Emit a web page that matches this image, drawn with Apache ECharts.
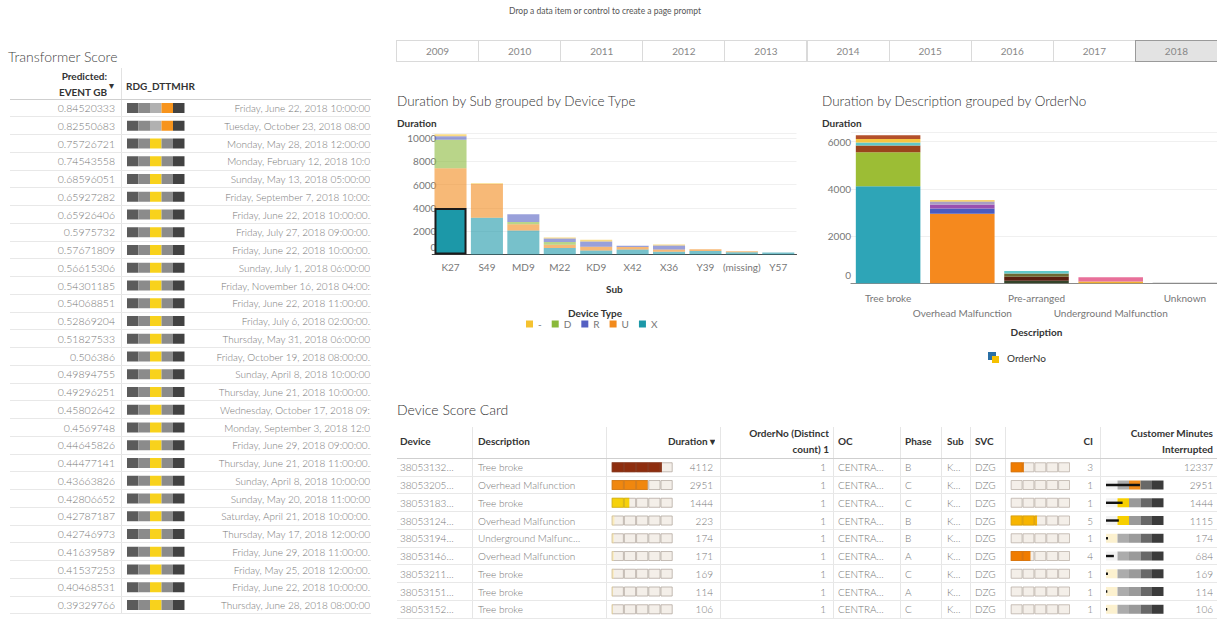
<!DOCTYPE html>
<html><head><meta charset="utf-8">
<script src="https://cdn.jsdelivr.net/npm/echarts@6/dist/echarts.min.js"></script>
<style>
html,body{margin:0;padding:0;background:#fff;}
#wrap{position:relative;width:1217px;height:620px;overflow:hidden;font-family:Lato,'Noto Sans',sans-serif;}
#chart{position:absolute;left:0;top:0;width:1217px;height:620px;z-index:0;}
#overlay{position:absolute;left:0;top:0;width:1217px;height:620px;z-index:1;pointer-events:none;}
.t{position:absolute;white-space:nowrap;}
.ln{position:absolute;}
</style></head>
<body><div id="wrap"><div id="chart"></div><div id="overlay"></div></div>
<script>
// ---------------- DATA ----------------
const years = ['2009','2010','2011','2012','2013','2014','2015','2016','2017','2018'];
const selectedYear = '2018';

// Transformer Score table
const tsScore = [0.84520333,0.82550683,0.75726721,0.74543558,0.68596051,0.65927282,0.65926406,0.5975732,0.57671809,0.56615306,0.54301185,0.54068851,0.52869204,0.51827533,0.506386,0.49894755,0.49296251,0.45802642,0.4569748,0.44645826,0.44477141,0.43663826,0.42806652,0.42787187,0.42746973,0.41639589,0.41537253,0.40468531,0.39329766];
const tsDate = ['Friday, June 22, 2018 10:00:00','Tuesday, October 23, 2018 08:00','Monday, May 28, 2018 12:00:00','Monday, February 12, 2018 10:0','Sunday, May 13, 2018 05:00:00','Friday, September 7, 2018 10:00:','Friday, June 22, 2018 10:00:00.','Friday, July 27, 2018 09:00:00.','Friday, June 22, 2018 10:00:00.','Sunday, July 1, 2018 06:00:00','Friday, November 16, 2018 04:00:','Friday, June 22, 2018 11:00:00.','Friday, July 6, 2018 02:00:00.','Thursday, May 31, 2018 06:00:00','Friday, October 19, 2018 08:00:00.','Sunday, April 8, 2018 10:00:00','Thursday, June 21, 2018 10:00:00.','Wednesday, October 17, 2018 09:','Monday, September 3, 2018 12:0','Friday, June 29, 2018 09:00:00.','Thursday, June 21, 2018 11:00:00.','Sunday, April 8, 2018 10:00:00','Sunday, May 20, 2018 11:00:00','Saturday, April 21, 2018 10:00:00.','Thursday, May 17, 2018 12:00:00','Friday, June 29, 2018 11:00:00.','Friday, May 25, 2018 12:00:00.','Friday, June 22, 2018 10:00:00.','Thursday, June 28, 2018 08:00:00'];

// Duration by Sub grouped by Device Type
const subs = ['K27','S49','MD9','M22','KD9','X42','X36','Y39','(missing)','Y57'];
const durX    = [4000,3150,2050,550,350,420,230,300,200,170];
const durU    = [3400,2900,550,280,320,230,200,150,80,0];
const durD    = [2450,0,200,250,0,0,0,0,0,0];
const durR    = [300,0,650,300,450,100,340,0,0,0];
const durDash = [170,60,0,80,140,0,90,0,0,0];
const legendTypes = ['-','D','R','U','X'];
const selectedSub = 'K27', selectedType = 'X';

// Duration by Description grouped by OrderNo
const descCats = ['Tree broke','Overhead Malfunction','Pre-arranged','Underground Malfunction','Unknown'];
const orderDesc = [0,0,0,0,0,0, 1,1,1,1,1, 2,2,2,2, 3,3, 4];
const orderDur  = [4112,1444,280,130,150,160, 2951,223,171,120,60, 110,170,140,100, 80,174, 20];

// Device Score Card
const scDevice = ['38053132…','38053205…','38053183…','38053124…','38053194…','38053146…','38053211…','38053151…','38053152…'];
const scDesc = ['Tree broke','Overhead Malfunction','Tree broke','Overhead Malfunction','Underground Malfunc…','Overhead Malfunction','Tree broke','Tree broke','Tree broke'];
const scDuration = [4112,2951,1444,223,174,171,169,114,106];
const scOrderCount = [1,1,1,1,1,1,1,1,1];
const scOC = ['CENTRA…','CENTRA…','CENTRA…','CENTRA…','CENTRA…','CENTRA…','CENTRA…','CENTRA…','CENTRA…'];
const scPhase = ['B','C','C','B','B','A','C','A','C'];
const scSub = ['K…','K…','K…','K…','K…','K…','K…','K…','K…'];
const scSVC = ['DZG','DZG','DZG','DZG','DZG','DZG','DZG','DZG','DZG'];
const scCI = [3,1,1,5,1,4,1,1,1];
const scCMI = [12337,2951,1444,1115,174,684,169,114,106];

// ---------------- STYLES ----------------
const FONT = 'Lato';
const CELL = '#777';
const typeColor = {'-':'#f5c230','D':'#8ab93a','R':'#5560c2','U':'#f28a1c','X':'#1c98a8'};
const orderColors = ['#2ea5b7','#9cbd35','#9a441c','#5fc8c8','#f6c542','#b4502a',
                     '#f5891e','#4a5bc0','#9a4fb0','#a79cc4','#f6c542',
                     '#34432a','#5a1f10','#6e6a32','#62c9c9',
                     '#f0b030','#e8709a','#8a8a8a'];
const tsBandBase = ['#5b5b5b','#8b8b8b','#b1b1b1','#8b8b8b','#424242'];
const tsHL = {2:'#f8d21c',3:'#f7941d'};
function tsLevel(v){ return v >= 0.8 ? 3 : 2; }
function durColor(v){ return v>=4000?'#8e2d0e':v>=2000?'#f0870e':v>=1000?'#f6d10a':'#fbecbc'; }
function ciColor(v){ return v>=5?'#f7b500':v>=3?'#f07c00':'rgba(0,0,0,0)'; }
const cmiBandBase = ['#f2f2f2','#acacac','#9a9a9a','#686868','#3b3b3b'];
const cmiHL = {0:'#fcf1cf',1:'#f7cf00',2:'#f08a1a'};
const CMI_MAX = 5000;
function cmiLevel(v){ if(v>CMI_MAX) return null; if(v<500) return 0; if(v<1000) return -1; return Math.floor(v/1000); }

const ROW_L = 17.75;          // left table row height
const L_TOP = 99.125;         // left table body top
const ROW_S = 17.75;          // score card row height
const S_TOP = 458.4;          // score card body top

// ---------------- HTML overlay ----------------
const ov = document.getElementById('overlay');
function txt(s,o){
  const d=document.createElement('div'); d.className='t'; d.textContent=s;
  const h=o.h||16;
  d.style.top=(o.cy-h/2)+'px'; d.style.height=h+'px'; d.style.lineHeight=h+'px';
  d.style.fontSize=(o.size||10)+'px'; d.style.color=o.color||CELL;
  d.style.fontWeight=o.bold?'bold':(o.weight||'normal');
  if(o.align==='right'){ d.style.left=(o.x-o.w)+'px'; d.style.width=o.w+'px'; d.style.textAlign='right'; d.style.overflow='hidden'; }
  else if(o.align==='center'){ d.style.left=(o.x-o.w/2)+'px'; d.style.width=o.w+'px'; d.style.textAlign='center'; }
  else { d.style.left=o.x+'px'; if(o.w){ d.style.width=o.w+'px'; d.style.overflow='hidden'; } }
  ov.appendChild(d); return d;
}
function box(x,y,w,h,css){ const d=document.createElement('div'); d.className='ln';
  d.style.left=x+'px'; d.style.top=y+'px'; d.style.width=w+'px'; d.style.height=h+'px'; d.style.cssText+=css; ov.appendChild(d); return d; }
function hline(x1,x2,y,c){ return box(x1,y-0.5,x2-x1,1,'background:'+c); }
function vline(x,y1,y2,c){ return box(x-0.5,y1,1,y2-y1,'background:'+c); }

txt('Drop a data item or control to create a page prompt',{x:605,cy:11,w:400,align:'center',size:8.5,color:'#555'});

// Year buttons
years.forEach((y,i)=>{
  const sel = y===selectedYear;
  const d = box(396+i*82.1,40,83.1,22,'box-sizing:border-box;border:1px solid '+(sel?'#9a9a9a':'#dadada')+';background:'+(sel?'#e3e3e3':'#fff')+';color:#888;font-size:10px;line-height:20px;text-align:center;'+(sel?'z-index:2;':''));
  d.textContent=y;
});

// Left table
txt('Transformer Score',{x:8,cy:57,size:14,color:'#444',weight:300});
txt('Predicted:',{x:107,cy:76,w:100,align:'right',bold:true,color:'#333'});
txt('EVENT GB',{x:107,cy:92,w:100,align:'right',bold:true,color:'#333'});
txt('▾',{x:109,cy:85,size:10,color:'#333'});
txt('RDG_DTTMHR',{x:126,cy:86,bold:true,color:'#333'});
vline(121,68,614,'#e2e2e2');
hline(10,371,L_TOP,'#cfcfcf');
tsScore.forEach((v,i)=>{
  const cy=L_TOP+(i+0.5)*ROW_L;
  txt(String(v),{x:115,cy,w:100,align:'right',size:10.5,weight:300});
  txt(tsDate[i],{x:370,cy,w:157,align:'right',size:10,weight:300});
  hline(10,371,L_TOP+(i+1)*ROW_L,'#e8e8e8');
});

// Chart titles / legends
txt('Duration by Sub grouped by Device Type',{x:397,cy:101,size:13.5,color:'#333',weight:300});
txt('Duration',{x:397,cy:122.5,bold:true,color:'#333'});
txt('Device Type',{x:595,cy:313,w:120,align:'center',bold:true,color:'#333'});
txt('Duration by Description grouped by OrderNo',{x:822,cy:101,size:13.5,color:'#333',weight:300});
txt('Duration',{x:822,cy:123,bold:true,color:'#333'});
box(988,352,8,8,'background:#2a6fa5;');
box(992,356,7,7,'background:#f5c000;');
txt('OrderNo',{x:1007,cy:358,color:'#333'});

// Score card
txt('Device Score Card',{x:397,cy:410,size:14,color:'#333',weight:300});
const H={bold:true,color:'#333'};
txt('Device',Object.assign({x:400,cy:441},H));
txt('Description',Object.assign({x:478,cy:441},H));
txt('Duration ▾',Object.assign({x:715,cy:441,w:100,align:'right'},H));
txt('OrderNo (Distinct',Object.assign({x:829,cy:433,w:110,align:'right'},H));
txt('count) 1',Object.assign({x:829,cy:449,w:110,align:'right'},H));
txt('OC',Object.assign({x:838,cy:441},H));
txt('Phase',Object.assign({x:905,cy:441},H));
txt('Sub',Object.assign({x:947,cy:441},H));
txt('SVC',Object.assign({x:975,cy:441},H));
txt('CI',Object.assign({x:1093,cy:441,w:40,align:'right'},H));
txt('Customer Minutes',Object.assign({x:1213,cy:433,w:110,align:'right'},H));
txt('Interrupted',Object.assign({x:1213,cy:449,w:110,align:'right'},H));
[472.7,606.7,720,833,900,941.7,970,1005,1100].forEach(x=>vline(x,427,618,'#e6e6e6'));
hline(397,1217,S_TOP,'#cfcfcf');
scDevice.forEach((d,i)=>{
  const cy=S_TOP+(i+0.5)*ROW_S, w=300;
  txt(d,{x:400,cy,weight:w});
  txt(scDesc[i],{x:478,cy,weight:w});
  txt(String(scDuration[i]),{x:713,cy,w:40,align:'right',weight:w});
  txt(String(scOrderCount[i]),{x:826,cy,w:40,align:'right',weight:w});
  txt(scOC[i],{x:838,cy,weight:w});
  txt(scPhase[i],{x:905,cy,weight:w});
  txt(scSub[i],{x:947,cy,weight:w});
  txt(scSVC[i],{x:975,cy,weight:w});
  txt(String(scCI[i]),{x:1093,cy,w:30,align:'right',weight:w});
  txt(String(scCMI[i]),{x:1213,cy,w:50,align:'right',weight:w});
  hline(397,1217,S_TOP+(i+1)*ROW_S,'#e8e8e8');
});

// ---------------- ECHARTS ----------------
const chart = echarts.init(document.getElementById('chart'), null, {renderer:'svg'});
const rowIdx = n => Array.from({length:n},(_,i)=>i);
const hiddenCat = (g,n) => ({gridIndex:g,type:'category',data:rowIdx(n),inverse:true,show:false});
const hiddenVal = (g,min,max,extra) => Object.assign({gridIndex:g,type:'value',min,max,show:false,splitLine:{show:false}},extra||{});
const zeroRich = {z:{padding:[0,0,16,0],fontSize:10,color:'#777',fontFamily:FONT}};
const valFmt = v => v===0 ? '{z|0}' : String(v);

const series = [];
// chart 1
[['X',durX],['U',durU],['D',durD],['R',durR],['-',durDash]].forEach(([name,arr])=>{
  series.push({type:'bar',name,stack:'c1',xAxisIndex:0,yAxisIndex:0,barCategoryGap:'12%',
    itemStyle:{color:typeColor[name],opacity:0.6},emphasis:{disabled:true},
    data:arr.map((v,i)=>(subs[i]===selectedSub&&name===selectedType)?{value:v,itemStyle:{opacity:1,borderColor:'#1b1b1b',borderWidth:2}}:v)});
});
// chart 2
orderDur.forEach((v,k)=>{
  series.push({type:'bar',name:'OrderNo '+(k+1),stack:'c2',xAxisIndex:1,yAxisIndex:1,barCategoryGap:'13%',
    itemStyle:{color:orderColors[k]},emphasis:{disabled:true},
    data:descCats.map((c,j)=>j===orderDesc[k]?v:null)});
});
// left bullets
for(let b=0;b<5;b++){
  series.push({type:'bar',stack:'ts',xAxisIndex:2,yAxisIndex:2,barWidth:10,silent:true,
    data:tsScore.map(v=>({value:1,itemStyle:{color:tsLevel(v)===b?tsHL[b]:tsBandBase[b]}}))});
}
// duration bars
for(let b=0;b<5;b++) series.push({type:'bar',stack:'dtrk',xAxisIndex:3,yAxisIndex:3,barWidth:10,barGap:'-100%',silent:true,
  itemStyle:{color:'#f4efe9',borderColor:'#dcd7d0',borderWidth:1},data:scDuration.map(()=>1000)});
series.push({type:'bar',stack:'dfill',xAxisIndex:3,yAxisIndex:3,barWidth:10,barGap:'-100%',silent:true,
  data:scDuration.map(v=>({value:v,itemStyle:{color:durColor(v)}}))});
for(let b=0;b<5;b++) series.push({type:'bar',stack:'ddiv',xAxisIndex:3,yAxisIndex:3,barWidth:10,barGap:'-100%',silent:true,
  itemStyle:{color:'rgba(0,0,0,0)',borderColor:'rgba(120,100,90,0.22)',borderWidth:1},data:scDuration.map(()=>1000)});
// CI bars
for(let b=0;b<5;b++) series.push({type:'bar',stack:'ctrk',xAxisIndex:4,yAxisIndex:4,barWidth:10,barGap:'-100%',silent:true,
  itemStyle:{color:'#f4efe9',borderColor:'#dcd7d0',borderWidth:1},data:scCI.map(()=>1)});
series.push({type:'bar',stack:'cfill',xAxisIndex:6,yAxisIndex:4,barWidth:10,barGap:'-100%',silent:true,clip:true,
  data:scCI.map(v=>({value:v,itemStyle:{color:ciColor(v)}}))});
for(let b=0;b<5;b++) series.push({type:'bar',stack:'cdiv',xAxisIndex:4,yAxisIndex:4,barWidth:10,barGap:'-100%',silent:true,
  itemStyle:{color:'rgba(0,0,0,0)',borderColor:'rgba(120,100,90,0.18)',borderWidth:1},data:scCI.map(()=>1)});
// CMI bullets
for(let b=0;b<5;b++){
  series.push({type:'bar',stack:'cmi',xAxisIndex:5,yAxisIndex:5,barWidth:9,silent:true,
    data:scCMI.map(v=>{const L=cmiLevel(v); if(L===null) return null; return {value:CMI_MAX/5,itemStyle:{color:L===b?cmiHL[b]:cmiBandBase[b]}};})});
}
series.push({type:'bar',xAxisIndex:5,yAxisIndex:6,barWidth:2.4,silent:true,itemStyle:{color:'#111'},
  data:scCMI.map(v=>v>CMI_MAX?null:v)});

const option = {
  animation:false,
  textStyle:{fontFamily:FONT},
  grid:[
    {left:432.3,top:133,width:364.2,height:121.5,outerBoundsMode:'none'},
    {left:851,top:132.3,width:371,height:151,outerBoundsMode:'none'},
    {left:127,top:L_TOP,width:57.5,height:ROW_L*tsScore.length,outerBoundsMode:'none'},
    {left:611.7,top:S_TOP,width:61,height:ROW_S*scDuration.length,outerBoundsMode:'none'},
    {left:1010.7,top:S_TOP,width:59.3,height:ROW_S*scCI.length,outerBoundsMode:'none'},
    {left:1106,top:S_TOP,width:57.5,height:ROW_S*scCMI.length,outerBoundsMode:'none'}
  ],
  legend:{data:legendTypes,left:526,top:319,padding:0,itemWidth:7,itemHeight:7,itemGap:10,icon:'rect',
    textStyle:{fontSize:10,color:'#777',fontFamily:FONT},itemStyle:{opacity:1},selectedMode:false},
  xAxis:[
    {gridIndex:0,type:'category',data:subs,
      axisLine:{lineStyle:{color:'#4a4a4a',width:1.2}},axisTick:{alignWithLabel:true,length:4,lineStyle:{color:'#4a4a4a'}},
      axisLabel:{interval:0,color:'#777',fontSize:10,margin:7.5,fontFamily:FONT},
      name:'Sub',nameLocation:'middle',nameGap:29.5,nameTextStyle:{fontWeight:'bold',fontSize:10,color:'#333',fontFamily:FONT}},
    {gridIndex:1,type:'category',data:descCats,
      axisLine:{lineStyle:{color:'#8a8a8a',width:1.2}},axisTick:{alignWithLabel:true,length:4,lineStyle:{color:'#8a8a8a'}},
      axisLabel:{interval:0,color:'#777',fontSize:10,margin:6.6,lineHeight:15.6,fontFamily:FONT,formatter:(v,i)=>i%2?'\n'+v:v},
      name:'Description',nameLocation:'middle',nameGap:44,nameTextStyle:{fontWeight:'bold',fontSize:10,color:'#333',fontFamily:FONT}},
    hiddenVal(2,0,5),
    hiddenVal(3,0,5000),
    hiddenVal(4,0,5),
    hiddenVal(5,0,CMI_MAX),
    hiddenVal(4,1,10,{startValue:1})
  ],
  yAxis:[
    {gridIndex:0,type:'value',min:0,max:10430,interval:2000,axisLine:{show:false},axisTick:{show:false},
      splitLine:{lineStyle:{color:'#f0f0f0'}},
      axisLabel:{color:'#777',fontSize:10,margin:-4,showMaxLabel:false,formatter:valFmt,rich:zeroRich,fontFamily:FONT}},
    {gridIndex:1,type:'value',min:0,max:6400,interval:2000,axisLine:{show:false},axisTick:{show:false},
      splitLine:{lineStyle:{color:'#f0f0f0'}},
      axisLabel:{color:'#777',fontSize:10,margin:0,showMaxLabel:false,formatter:valFmt,rich:zeroRich,fontFamily:FONT}},
    hiddenCat(2,tsScore.length),
    hiddenCat(3,scDuration.length),
    hiddenCat(4,scCI.length),
    hiddenCat(5,scCMI.length),
    hiddenCat(5,scCMI.length)
  ],
  series
};
chart.setOption(option);
</script></body></html>
